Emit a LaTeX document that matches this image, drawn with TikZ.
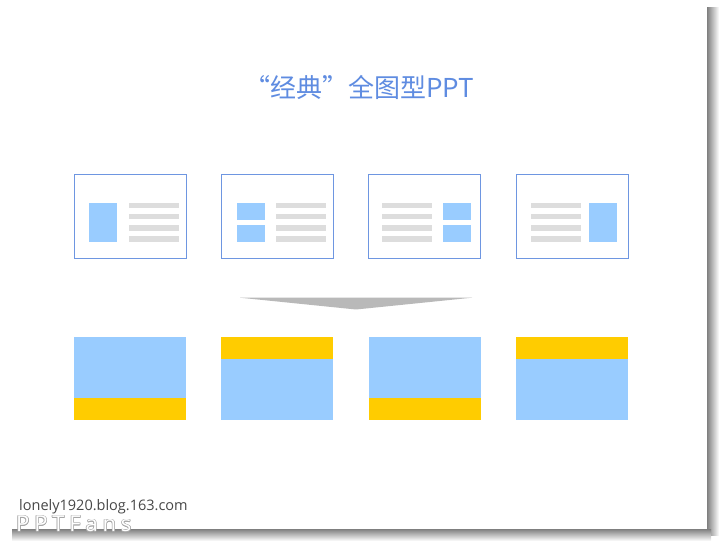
\documentclass[tikz,border=0pt]{standalone}
\usepackage{fontspec}
\setmainfont{Open Sans}
\newfontfamily\cjk{Noto Sans CJK SC}
\definecolor{titleblue}{RGB}{95,140,225}
\definecolor{framblue}{RGB}{110,150,225}
\definecolor{picblue}{RGB}{153,204,255}
\definecolor{bandyellow}{RGB}{255,204,0}
\definecolor{linegray}{RGB}{221,221,221}
\definecolor{arrowgray}{RGB}{185,185,185}

\begin{document}
\begin{tikzpicture}[x=1pt,y=-1pt,
  frame/.style={draw=framblue,line width=0.9pt,fill=white,minimum width=112pt,minimum height=84pt,inner sep=0pt},
  photo/.style={fill=picblue,draw=none,minimum width=112pt,minimum height=83pt,inner sep=0pt},
  txtline/.style={fill=linegray},
  pic/.style={fill=picblue},
  band/.style={fill=bandyellow},
  wmark/.style={anchor=west,font=\fontsize{22}{24}\selectfont\addfontfeature{LetterSpace=22},inner sep=0pt}]
\def\lh{5.5}
\def\lines#1{\foreach \t in {202.7,213.9,225.1,236.3} \fill[txtline] (#1,\t) rectangle ++(50,\lh);}
\useasboundingbox (0,0) rectangle (723,545);
\shade[left color=black!50,right color=white] (707,8) rectangle (719,535);
\shade[top color=black!50,bottom color=white] (12,529) rectangle (711,541);
\fill[white] (0,0) rectangle (707,529);
\node[font=\cjk\fontsize{26}{30}\selectfont,text=titleblue] (title) at (359,87) {“经典”全图型PPT};
\node[frame] (s1) at (130,216) {};
\node[frame] (s2) at (277,216) {};
\node[frame] (s3) at (424,216) {};
\node[frame] (s4) at (572,216) {};
\fill[pic] (89,202.7) rectangle (117,242);
\lines{129}
\fill[pic] (236.7,202.7) rectangle (264.7,219.7);
\fill[pic] (236.7,225) rectangle (264.7,242);
\lines{276}
\lines{382}
\fill[pic] (443,202.7) rectangle (471,219.7);
\fill[pic] (443,225) rectangle (471,242);
\lines{531}
\fill[pic] (589,202.7) rectangle (617,242);
\coordinate (al) at (240,297.7);
\coordinate (ar) at (472,297.7);
\coordinate (tip) at (356,309.5);
\fill[arrowgray] (al) -- (ar) .. controls (420,303) .. (tip) .. controls (292,303) .. (al) -- cycle;
\node[photo] (b1) at (130,378.5) {};
\node[photo] (b2) at (277,378.5) {};
\node[photo] (b3) at (425,378.5) {};
\node[photo] (b4) at (572,378.5) {};
\fill[band] (b1.south west) rectangle ++(112,-22);
\fill[band] (b2.north west) rectangle ++(112,22);
\fill[band] (b3.south west) rectangle ++(112,-22);
\fill[band] (b4.north west) rectangle ++(112,22);
\node[anchor=west,font=\fontsize{14.5}{16}\selectfont,text=black!72,inner sep=0pt] (site) at (19,507) {lonely1920.blog.163.com};
\foreach \dx/\dy in {-0.6/0,0.6/0,0/-0.6,0/0.6,-0.45/-0.45,0.45/0.45,-0.45/0.45,0.45/-0.45}
  \node[wmark,text=black!35] at (16+\dx,524+\dy) {PPTFans};
\node[wmark,text=white] (mark) at (16,524) {PPTFans};
\end{tikzpicture}
\end{document}
